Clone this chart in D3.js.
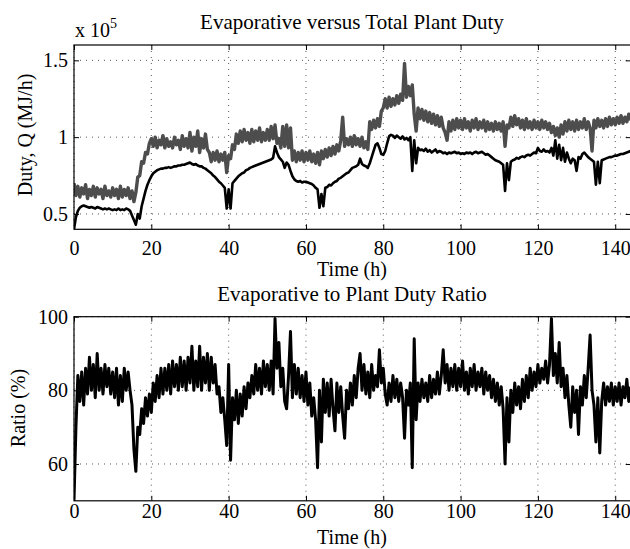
<!DOCTYPE html>
<html>
<head>
<meta charset="utf-8">
<script src="https://cdn.jsdelivr.net/npm/d3@7"></script>
<style>
  body { margin: 0; background: #fff; }
  svg text { font-family: "Liberation Serif", "Tinos", "Times New Roman", "Nimbus Roman", "DejaVu Serif", serif; }
</style>
</head>
<body>
<svg id="chart" width="630" height="549"></svg>
<script>
// samples every half hour
const step = 0.5;
const xTicks = [0, 20, 40, 60, 80, 100, 120, 140];
const dutyTicks = [0.5, 1, 1.5];
const ratioTicks = [60, 80, 100];

// total plant duty, x 10^5 MJ/h
const totalDuty = [
  0.70,0.62,0.68,0.61,0.67,0.63,0.69,0.60,0.66,0.62,0.68,0.61,0.67,0.63,0.66,0.60,0.68,0.62,0.65,0.61,
  0.67,0.62,0.66,0.60,0.68,0.61,0.66,0.62,0.67,0.60,0.65,0.58,0.64,0.74,0.75,0.84,0.83,0.90,0.89,0.96,
  0.99,0.94,1.00,0.93,0.98,0.95,1.01,0.93,0.99,0.94,0.97,0.93,1.00,0.95,0.98,0.92,1.01,0.94,0.99,0.93,
  1.03,0.91,1.00,0.94,1.04,0.90,0.99,0.93,1.02,0.92,0.90,0.84,0.90,0.85,0.91,0.84,0.89,0.85,0.90,0.77,
  0.88,0.86,0.95,0.92,1.02,0.96,1.04,0.97,1.05,0.98,1.03,0.96,1.05,0.97,1.04,0.98,1.06,0.97,1.03,0.98,
  1.05,0.98,1.07,0.99,1.08,0.96,0.99,0.93,1.07,0.94,1.08,0.93,1.06,0.85,0.91,0.84,0.90,0.85,0.91,0.84,
  0.90,0.85,0.91,0.84,0.89,0.83,0.90,0.82,0.91,0.86,0.92,0.87,0.93,0.88,0.94,0.89,0.95,0.91,0.98,1.13,
  0.94,0.99,0.95,1.00,0.94,1.01,0.95,0.99,0.94,1.00,0.93,0.97,0.92,1.10,1.05,1.11,1.06,1.12,1.07,1.17,
  1.19,1.25,1.19,1.26,1.20,1.25,1.21,1.27,1.22,1.28,1.24,1.48,1.26,1.33,1.27,1.34,1.15,1.04,1.19,1.12,
  1.18,1.11,1.17,1.10,1.16,1.09,1.15,1.08,1.14,1.07,1.13,1.06,1.03,0.98,1.10,1.04,1.11,1.05,1.12,1.06,
  1.11,1.05,1.12,1.06,1.10,1.04,1.11,1.06,1.12,1.05,1.10,1.06,1.11,1.04,1.10,1.05,1.09,1.04,1.10,1.05,
  1.09,1.04,1.10,0.94,1.08,1.06,1.13,1.07,1.14,1.08,1.12,1.06,1.11,1.05,1.12,1.06,1.10,1.05,1.11,1.06,
  1.10,1.05,1.11,1.06,1.10,1.05,1.09,1.03,1.07,1.01,1.06,1.00,1.08,1.02,1.10,1.04,1.11,1.05,1.10,1.04,
  1.11,1.05,1.10,1.06,1.12,1.05,1.10,1.06,0.91,1.11,1.06,1.12,1.07,1.11,1.06,1.12,1.07,1.13,1.08,1.12,
  1.08,1.13,1.09,1.14,1.09,1.13,1.10,1.15,1.11
];

// evaporative duty, x 10^5 MJ/h
const evapDuty = [
  0.40,0.48,0.52,0.54,0.55,0.555,0.55,0.545,0.54,0.545,0.54,0.535,0.545,0.54,0.535,0.53,0.535,0.53,0.535,0.53,
  0.525,0.53,0.525,0.535,0.525,0.53,0.525,0.535,0.53,0.52,0.49,0.46,0.43,0.50,0.47,0.55,0.60,0.65,0.69,0.72,
  0.745,0.765,0.775,0.785,0.79,0.795,0.795,0.80,0.80,0.805,0.80,0.805,0.81,0.81,0.815,0.815,0.82,0.82,0.825,0.83,
  0.835,0.825,0.82,0.825,0.815,0.81,0.81,0.80,0.795,0.785,0.775,0.765,0.75,0.74,0.725,0.71,0.70,0.685,0.67,0.535,
  0.66,0.535,0.70,0.715,0.73,0.745,0.755,0.765,0.77,0.785,0.79,0.80,0.805,0.81,0.815,0.82,0.825,0.83,0.835,0.84,
  0.845,0.85,0.855,0.865,0.94,0.90,0.87,0.855,0.84,0.80,0.835,0.82,0.78,0.745,0.725,0.715,0.71,0.715,0.705,0.71,
  0.71,0.705,0.70,0.695,0.685,0.67,0.66,0.54,0.63,0.55,0.67,0.675,0.69,0.685,0.70,0.71,0.715,0.73,0.735,0.745,
  0.755,0.765,0.77,0.785,0.80,0.805,0.81,0.82,0.86,0.825,0.815,0.81,0.80,0.83,0.87,0.91,0.95,0.96,0.93,0.89,
  0.885,0.91,0.96,1.005,1.015,1.01,0.995,1.01,1.0,0.99,1.005,0.985,0.995,0.98,1.0,0.78,0.98,0.83,0.93,0.915,
  0.92,0.91,0.925,0.905,0.915,0.90,0.91,0.92,0.90,0.91,0.905,0.895,0.90,0.89,0.90,0.895,0.90,0.905,0.895,0.90,
  0.89,0.895,0.89,0.90,0.895,0.90,0.89,0.90,0.905,0.895,0.90,0.905,0.895,0.885,0.89,0.88,0.87,0.86,0.85,0.845,
  0.84,0.83,0.82,0.65,0.83,0.72,0.84,0.85,0.855,0.865,0.86,0.87,0.875,0.87,0.88,0.885,0.88,0.89,0.90,0.895,
  0.93,0.91,0.905,0.92,0.905,0.91,0.90,0.93,0.88,0.98,0.86,0.95,0.85,0.93,0.84,0.90,0.86,0.83,0.86,0.85,
  0.78,0.87,0.86,0.89,0.90,0.885,0.87,0.86,0.85,0.84,0.69,0.84,0.70,0.85,0.855,0.86,0.865,0.87,0.87,0.875,
  0.88,0.88,0.885,0.89,0.89,0.895,0.90,0.905,0.91
];

// evaporative / plant duty, %
const dutyRatio = [
  50,70,84,77,85,76,86,79,89,80,87,78,90,80,86,79,87,81,86,79,
  85,78,86,76,84,77,86,80,85,80,76,64,58,70,68,75,71,78,73,79,
  74,82,77,84,78,86,79,86,80,87,79,88,81,87,80,89,81,88,80,89,
  82,92,80,88,81,92,80,89,82,90,80,89,82,87,79,81,74,78,72,65,
  87,61,78,72,80,71,79,73,81,75,82,78,84,79,87,80,86,79,88,81,
  87,80,88,79,99.5,86,93,81,86,77,75,84,96,78,87,79,86,78,84,77,
  85,76,82,73,78,72,59,80,66,83,74,82,73,83,75,69,82,74,81,73,
  67,80,75,82,76,84,78,86,90,80,87,79,85,78,87,80,84,81,91,82,
  86,79,76,82,77,84,78,83,77,82,78,67,80,76,82,59,94,72,82,77,
  83,78,82,77,84,78,83,79,85,79,84,91,82,87,80,86,81,87,80,86,
  81,88,80,85,79,86,81,87,80,85,81,86,79,85,80,84,78,83,77,82,
  76,81,75,60,78,66,80,74,82,76,81,75,83,77,84,78,86,80,85,81,
  87,82,86,83,88,82,87,99.5,84,90,82,93,81,86,78,84,76,70,81,74,
  80,68,81,76,84,78,86,95,80,76,66,78,63,77,82,76,81,77,82,76,
  81,77,82,76,81,78,83,77,81
];

const hours = totalDuty.map((d, i) => i * step);

const svg = d3.select("#chart");
const fontSize = 20;

const x = d3.scaleLinear().domain([0, 144]).range([74, 630.7]);

function panel(id, top, bottom, yDomain, yTicks, xPad) {
  const y = d3.scaleLinear().domain(yDomain).range([bottom, top]);
  const g = svg.append("g");

  g.append("clipPath").attr("id", id)
    .append("rect")
    .attr("x", x.range()[0]).attr("y", top)
    .attr("width", x.range()[1] - x.range()[0]).attr("height", bottom - top);

  // dotted grid
  g.selectAll(".vg").data(xTicks).enter().append("line")
    .attr("x1", d => x(d)).attr("x2", d => x(d))
    .attr("y1", top).attr("y2", bottom)
    .attr("stroke", "#555").attr("stroke-width", 1)
    .attr("stroke-dasharray", "1,5");
  g.selectAll(".hg").data(yTicks).enter().append("line")
    .attr("x1", x.range()[0]).attr("x2", x.range()[1])
    .attr("y1", d => y(d)).attr("y2", d => y(d))
    .attr("stroke", "#555").attr("stroke-width", 1)
    .attr("stroke-dasharray", "1,5");

  const plot = g.append("g").attr("clip-path", "url(#" + id + ")");

  // axes with inward ticks on all four sides
  const xa = g.append("g").attr("transform", "translate(0," + bottom + ")")
    .call(d3.axisBottom(x).tickValues(xTicks).tickSize(-5).tickPadding(xPad));
  g.append("g").attr("transform", "translate(0," + top + ")")
    .call(d3.axisTop(x).tickValues(xTicks).tickSize(-5).tickFormat(""));
  const ya = g.append("g").attr("transform", "translate(" + x.range()[0] + ",0)")
    .call(d3.axisLeft(y).tickValues(yTicks).tickSize(-5).tickPadding(6).tickFormat(d3.format("")));
  g.append("g").attr("transform", "translate(" + x.range()[1] + ",0)")
    .call(d3.axisRight(y).tickValues(yTicks).tickSize(-5).tickFormat(""));

  g.selectAll(".domain").remove();
  g.selectAll(".tick line").attr("stroke", "#000");
  [xa, ya].forEach(a => {
    a.attr("font-family", null).attr("font-size", null);
    a.selectAll("text").attr("font-size", fontSize).attr("fill", "#000");
  });

  return { g, plot, y, top, bottom };
}

function box(p) {
  p.g.append("rect")
    .attr("x", x.range()[0]).attr("y", p.top)
    .attr("width", x.range()[1] - x.range()[0]).attr("height", p.bottom - p.top)
    .attr("fill", "none").attr("stroke", "#000").attr("stroke-width", 1.2);
}

function addText(str, tx, ty, anchor, rotate, size) {
  const t = svg.append("text")
    .attr("x", tx).attr("y", ty)
    .attr("text-anchor", anchor || "middle")
    .attr("font-size", size || fontSize).attr("fill", "#000")
    .text(str);
  if (rotate) t.attr("transform", "rotate(-90," + tx + "," + ty + ")");
  return t;
}

// ---- top panel: duties ----
const p1 = panel("clipTop", 45, 229.3, [0.4, 1.6], dutyTicks, 11.5);

const line1 = d3.line().x((d, i) => x(hours[i])).y(d => p1.y(d));
p1.plot.append("path").datum(totalDuty)
  .attr("d", line1).attr("fill", "none")
  .attr("stroke", "#4d4d4d").attr("stroke-width", 3.4)
  .attr("stroke-linejoin", "round");
p1.plot.append("path").datum(evapDuty)
  .attr("d", line1).attr("fill", "none")
  .attr("stroke", "#000").attr("stroke-width", 2.6)
  .attr("stroke-linejoin", "round");
box(p1);

addText("Evaporative versus Total Plant Duty", 352, 29, "middle", false, 21);
const mult = addText("x 10", 75, 37, "start");
mult.append("tspan").attr("dy", -9).attr("font-size", 14).text("5");
addText("Time (h)", 352, 276);
addText("Duty, Q (MJ/h)", 32, 135, "middle", true);

// ---- bottom panel: ratio ----
const p2 = panel("clipBot", 316.7, 500.8, [50, 100], ratioTicks, 3);

const line2 = d3.line().x((d, i) => x(hours[i])).y(d => p2.y(d));
p2.plot.append("path").datum(dutyRatio)
  .attr("d", line2).attr("fill", "none")
  .attr("stroke", "#000").attr("stroke-width", 3)
  .attr("stroke-linejoin", "round");
box(p2);

addText("Evaporative to Plant Duty Ratio", 352, 301, "middle", false, 21);
addText("Time (h)", 352, 544);
addText("Ratio (%)", 25, 408, "middle", true);
</script>
</body>
</html>
